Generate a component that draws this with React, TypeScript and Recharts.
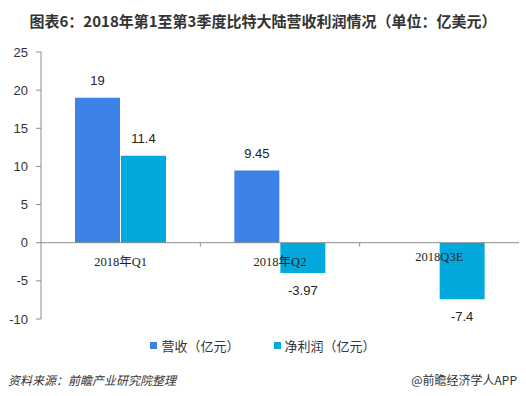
import React from "react";
import { BarChart, Bar, XAxis, YAxis, ReferenceLine, LabelList } from "recharts";

const categories = ["2018年Q1", "2018年Q2", "2018Q3E"];
const revenue: (number | null)[] = [19, 9.45, null];
const profit: (number | null)[] = [11.4, -3.97, -7.4];
const yTicks = [-10, -5, 0, 5, 10, 15, 20, 25];

const data = categories.map((c, i) => ({ name: c, revenue: revenue[i], profit: profit[i] }));

const W = 526;
const H = 396;
const M = { top: 52, right: 7, bottom: 67, left: 0 };
const X_AXIS_H = 10;
const Y_MIN = -10;
const Y_MAX = 25;
const BLUE = "#3D82E6";
const CYAN = "#02A9DC";
const AXIS = "#8c8c8c";

const plotH = H - M.top - M.bottom - X_AXIS_H;
const zeroY = M.top + ((Y_MAX - 0) / (Y_MAX - Y_MIN)) * plotH;
const bandW = (W - M.left - M.right - 41) / categories.length;

const CatTick = (props: any) => {
  const { x, payload, index } = props;
  const shift = index === 2 ? -5 : 0;
  return (
    <g>
      {index < categories.length - 1 && (
        <line x1={x + bandW / 2} x2={x + bandW / 2} y1={zeroY} y2={zeroY + 4} stroke={AXIS} />
      )}
      <text
        x={x}
        y={zeroY + 23 + shift}
        textAnchor="middle"
        fontSize={12.5}
        fontFamily="'Liberation Serif', 'Noto Sans CJK SC', serif"
        fill="#222"
      >
        {payload.value}
      </text>
    </g>
  );
};

const ValLabel = (props: any) => {
  const { x, y, width, height, value } = props;
  if (value === null || value === undefined) return null;
  const neg = value < 0;
  const cx = Number(x) + Number(width) / 2;
  const top = Math.min(Number(y), Number(y) + Number(height));
  const bottom = Math.max(Number(y), Number(y) + Number(height));
  const ty = neg ? bottom + 22 : top - 13;
  return (
    <text x={cx} y={ty} textAnchor="middle" fontSize={13} fontFamily="'Liberation Sans', Arial, sans-serif" fill="#222">
      {value}
    </text>
  );
};

export default function App() {
  return (
    <div style={{ position: "absolute", left: 0, top: 0, width: W, height: H, background: "#fff", fontFamily: "'Noto Sans CJK SC', sans-serif" }}>
      <div style={{ position: "absolute", top: 10, left: 0, width: W, textAlign: "center", fontSize: 15, fontWeight: 700, color: "#333", whiteSpace: "nowrap" }}>
        图表6：2018年第1至第3季度比特大陆营收利润情况（单位：亿美元）
      </div>
      <BarChart width={W} height={H} data={data} margin={M} barSize={45} barGap={1}>
        <YAxis
          domain={[Y_MIN, Y_MAX]}
          ticks={yTicks}
          width={41}
          interval={0}
          axisLine={{ stroke: AXIS }}
          tickLine={{ stroke: AXIS }}
          tickSize={5}
          tickMargin={8}
          tick={{ fontSize: 13, fill: "#333", fontFamily: "'Liberation Sans', Arial, sans-serif" }}
        />
        <XAxis dataKey="name" height={X_AXIS_H} axisLine={false} tickLine={false} tick={<CatTick />} interval={0} />
        <ReferenceLine y={0} stroke={AXIS} strokeWidth={1} />
        <Bar dataKey="revenue" fill={BLUE} isAnimationActive={false}>
          <LabelList dataKey="revenue" content={<ValLabel />} />
        </Bar>
        <Bar dataKey="profit" fill={CYAN} isAnimationActive={false}>
          <LabelList dataKey="profit" content={<ValLabel />} />
        </Bar>
      </BarChart>
      <div style={{ position: "absolute", top: 336, left: 0, width: W, display: "flex", justifyContent: "center", fontSize: 13, color: "#333" }}>
        <div style={{ display: "flex", alignItems: "center", marginRight: 34 }}>
          <span style={{ width: 7, height: 7, background: BLUE, display: "inline-block", marginRight: 4 }} />
          营收（亿元）
        </div>
        <div style={{ display: "flex", alignItems: "center" }}>
          <span style={{ width: 7, height: 7, background: CYAN, display: "inline-block", marginRight: 4 }} />
          净利润（亿元）
        </div>
      </div>
      <div style={{ position: "absolute", top: 371, left: 8, fontSize: 12, fontStyle: "italic", color: "#333" }}>
        资料来源：前瞻产业研究院整理
      </div>
      <div style={{ position: "absolute", top: 371, right: 9, fontSize: 12, color: "#333" }}>
        @前瞻经济学人APP
      </div>
    </div>
  );
}
